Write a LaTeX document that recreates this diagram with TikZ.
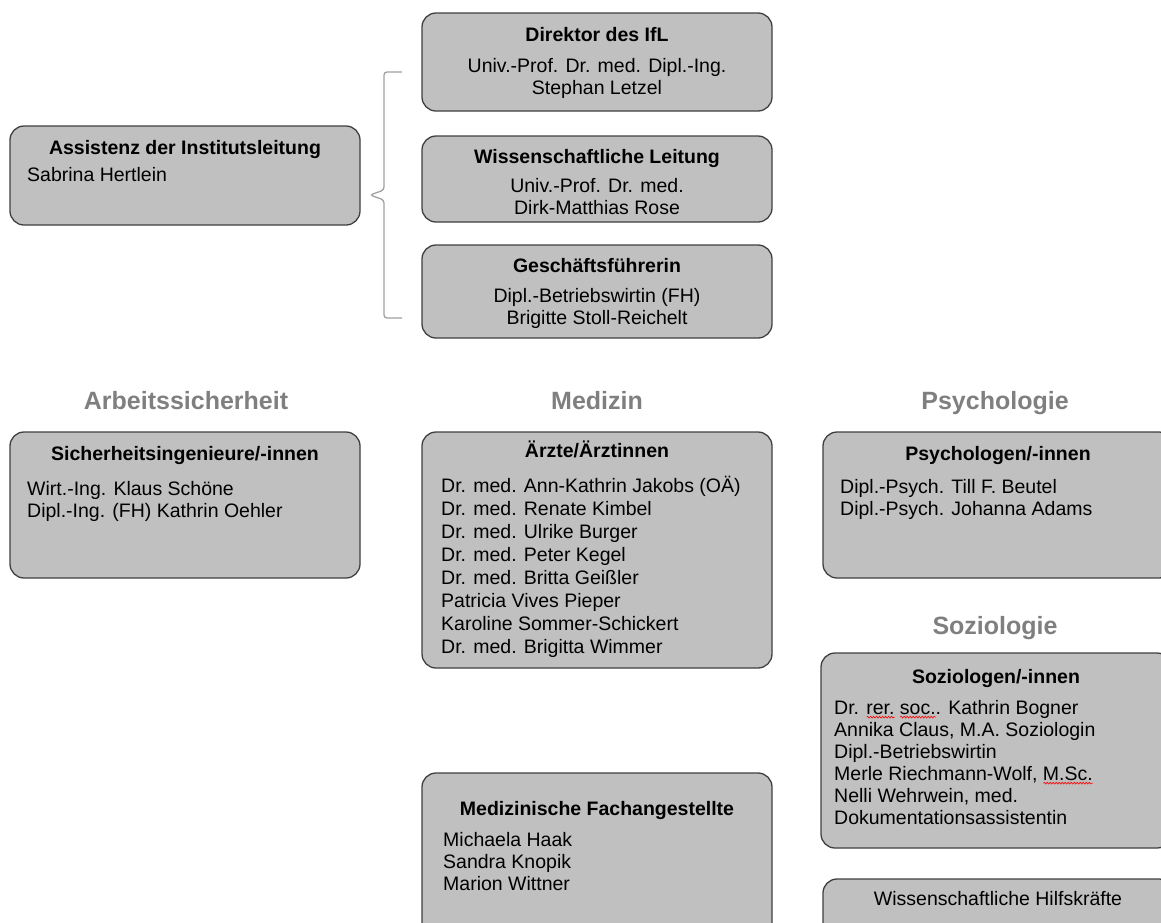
\documentclass[tikz,border=0pt]{standalone}
\usepackage{fontspec}
\setmainfont{Liberation Sans}
\usetikzlibrary{decorations.pathmorphing}
\definecolor{boxgray}{HTML}{C0C0C0}
\definecolor{headgray}{HTML}{7F7F7F}
\definecolor{bracegray}{HTML}{A0A0A0}
\newsavebox{\spellbox}
\newcommand{\spell}[1]{\sbox{\spellbox}{#1}%
  \rlap{\raisebox{-3.5pt}{\tikz[x=1pt,y=1pt]\draw[red, line width=0.6pt,
      decorate, decoration={snake, amplitude=0.9pt, segment length=3pt}]
      (0,0) -- (\wd\spellbox,0);}}\usebox{\spellbox}}
\begin{document}
\begin{tikzpicture}[x=1pt, y=-1pt,
    box/.style={draw=black!75, fill=boxgray, line width=1.3pt, rounded corners=14pt,
                minimum width=350pt, inner sep=0pt},
    title/.style={anchor=base, font=\fontsize{19.5}{22}\selectfont\bfseries},
    body/.style={inner sep=0pt, font=\fontsize{19.5}{22}\selectfont},
    head/.style={anchor=base, text=headgray, font=\fontsize{25}{28}\selectfont\bfseries}]
    \useasboundingbox (0,0) rectangle (1161,922);
    \clip (0,0) rectangle (1161,922);

    % Leitung
    \node[box, minimum height=98pt] (dir) at (597,62) {};
    \node[title] (dirT) at (597,41) {Direktor des IfL};
    \node[body, anchor=north, align=center] (dirB) at (597,58.5) {Univ.-Prof. Dr. med. Dipl.-Ing.\\Stephan Letzel};

    \node[box, minimum height=86pt] (wl) at (597,179) {};
    \node[title] (wlT) at (597,163) {Wissenschaftliche Leitung};
    \node[body, anchor=north, align=center] (wlB) at (597,178.5) {Univ.-Prof. Dr. med.\\Dirk-Matthias Rose};

    \node[box, minimum height=93pt] (gf) at (597,291.5) {};
    \node[title] (gfT) at (597,272) {Geschäftsführerin};
    \node[body, anchor=north, align=center] (gfB) at (597,288.5) {Dipl.-Betriebswirtin (FH)\\Brigitte Stoll-Reichelt};

    \node[box, minimum height=99pt] (ass) at (185,175.5) {};
    \node[title] (assT) at (185,154) {Assistenz der Institutsleitung};
    \node[body, anchor=north west, align=left] (assB) at (27,167.5) {Sabrina Hertlein};

    % Klammer
    \coordinate (bTop) at (402,72);
    \coordinate (bTip) at (370,195);
    \coordinate (bBot) at (402,318);
    \draw[bracegray, line width=1.3pt, rounded corners=3pt]
        (bTop) -| (384,190) -- (bTip) -- (384,200) |- (bBot);

    % Bereiche
    \node[head] (hA) at (186,409) {Arbeitssicherheit};
    \node[head] (hM) at (597,409) {Medizin};
    \node[head] (hP) at (995,409) {Psychologie};
    \node[head] (hS) at (995,634) {Soziologie};

    \node[box, minimum height=146pt] (sich) at (185,505) {};
    \node[title] (sichT) at (185,460) {Sicherheitsingenieure/-innen};
    \node[body, anchor=north west, align=left] (sichB) at (27,481.5)
        {Wirt.-Ing. Klaus Schöne\\Dipl.-Ing. (FH) Kathrin Oehler};

    \node[box, minimum height=236pt] (arzt) at (597,550) {};
    \node[title] (arztT) at (597,457) {Ärzte/Ärztinnen};
    \node[body, anchor=north west, align=left, font=\fontsize{19.5}{23}\selectfont] (arztB) at (441,475.5)
        {Dr. med. Ann-Kathrin Jakobs (OÄ)\\Dr. med. Renate Kimbel\\Dr. med. Ulrike Burger\\Dr. med. Peter Kegel\\Dr. med. Britta Geißler\\Patricia Vives Pieper\\Karoline Sommer-Schickert\\Dr. med. Brigitta Wimmer};

    \node[box, minimum height=146pt] (psy) at (998,505) {};
    \node[title] (psyT) at (998,460) {Psychologen/-innen};
    \node[body, anchor=north west, align=left] (psyB) at (840,479.5)
        {Dipl.-Psych. Till F. Beutel\\Dipl.-Psych. Johanna Adams};

    \node[box, minimum height=195pt] (soz) at (996,750.5) {};
    \node[title] (sozT) at (996,683) {Soziologen/-innen};
    \node[body, anchor=north west, align=left] (sozB) at (834,700.5)
        {Dr. \spell{rer.} \spell{soc.}. Kathrin Bogner\\Annika Claus, M.A. Soziologin\\Dipl.-Betriebswirtin\\Merle Riechmann-Wolf, \spell{M.Sc.}\\Nelli Wehrwein, med.\\Dokumentationsassistentin};

    \node[box, minimum height=81pt] (hilf) at (998,919.5) {};
    \node[title, font=\fontsize{19.5}{22}\selectfont] (hilfT) at (998,905) {Wissenschaftliche Hilfskräfte};

    \node[box, minimum height=177pt] (mfa) at (597,861.5) {};
    \node[title] (mfaT) at (597,815) {Medizinische Fachangestellte};
    \node[body, anchor=north west, align=left] (mfaB) at (443,832.5)
        {Michaela Haak\\Sandra Knopik\\Marion Wittner};
\end{tikzpicture}
\end{document}
